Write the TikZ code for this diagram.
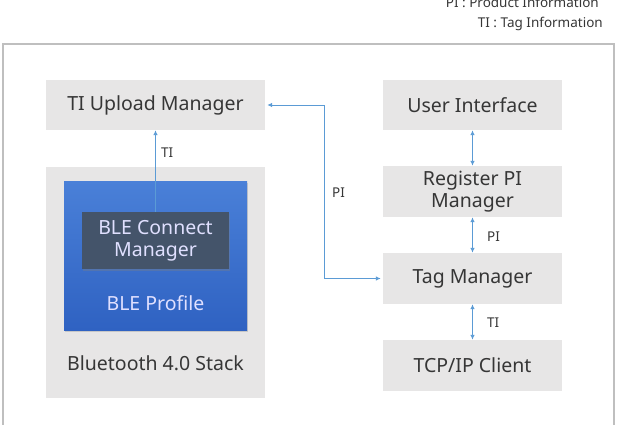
\documentclass[tikz,border=0pt]{standalone}
\usepackage{fontspec}
\setmainfont{Noto Sans}
\usetikzlibrary{arrows.meta, shadows}

\definecolor{boxgray}{HTML}{E7E6E6}
\definecolor{txtgray}{HTML}{363636}
\definecolor{linkblue}{HTML}{5B9BD5}
\definecolor{framegray}{HTML}{BFBFBF}
\definecolor{proftop}{HTML}{4A80D8}
\definecolor{profbot}{HTML}{2F62C2}
\definecolor{connfill}{HTML}{44546A}

\begin{document}
\begin{tikzpicture}[
  x=1pt, y=-1pt,
  >={Latex[length=5pt, width=4.5pt]},
  gbox/.style={rectangle, fill=boxgray, inner sep=0pt, align=center,
    text=txtgray, font=\fontsize{19.5}{22}\selectfont},
  txt/.style={text=txtgray, font=\fontsize{19.5}{22}\selectfont, align=center},
  small/.style={text=txtgray, font=\fontsize{13.5}{15}\selectfont, inner sep=1pt},
  link/.style={linkblue, line width=0.9pt},
  profbox/.style={rectangle, inner sep=0pt, top color=proftop, bottom color=profbot,
    drop shadow={opacity=0.3, shadow xshift=1pt, shadow yshift=-1.5pt}},
  connbox/.style={rectangle, inner sep=0pt, fill=connfill, align=center,
    text=white!88!blue, font=\fontsize{19.5}{22}\selectfont,
    drop shadow={opacity=0.35, shadow xshift=1pt, shadow yshift=-1.5pt}},
]

\useasboundingbox (0,0) rectangle (621,425);

% ---- legend (top right) ----
\node[small, anchor=east] (legpi) at (600,2) {PI : Product Information};
\node[small, anchor=east] (legti) at (604,24) {TI : Tag Information};

% ---- outer frame ----
\draw[framegray, line width=1.4pt] (3,440) -- (3,44) -- (614,44) -- (614,440);

% ============================================================
% LEFT COLUMN
% ============================================================
\node[gbox, minimum width=219pt, minimum height=50pt] (upl) at (155.5,105) {TI Upload Manager};
\node[gbox, minimum width=219pt, minimum height=231pt] (stack) at (155.5,282.5) {};
\node[txt] (stacklbl) at (155.5,363) {Bluetooth 4.0 Stack};
\node[profbox, minimum width=183pt, minimum height=149pt] (prof) at (155.5,255.5) {};
\node[txt, text=white!88!blue] (proflbl) at (155.5,303) {BLE Profile};
\node[connbox, minimum width=147pt, minimum height=57pt] (conn) at (155.5,240.5) {BLE Connect\\Manager};

% ============================================================
% RIGHT COLUMN
% ============================================================
\node[gbox, minimum width=179pt, minimum height=50pt] (ui)  at (472.5,105)   {User Interface};
\node[gbox, minimum width=179pt, minimum height=51pt] (reg) at (472.5,191.5) {Register PI\\Manager};
\node[gbox, minimum width=179pt, minimum height=51pt] (tag) at (472.5,278.5) {Tag Manager};
\node[gbox, minimum width=179pt, minimum height=51pt] (tcp) at (472.5,365.5) {TCP/IP Client};

% ============================================================
% CONNECTORS
% ============================================================
\coordinate (pibend) at (324,278.5);
\draw[link, ->] (conn.north) -- (upl.south);
\draw[link, <->, shorten <=2pt, shorten >=2pt] (upl.east) -| (pibend) -- (tag.west);
\draw[link, <->] (ui) -- (reg);
\draw[link, <->] (reg) -- (tag);
\draw[link, <->] (tag) -- (tcp);

% labels
\node[small, anchor=west] (lblti1) at (160,153) {TI};
\node[small, anchor=west] (lblpi1) at (331,193) {PI};
\node[small, anchor=west] (lblpi2) at (486,237) {PI};
\node[small, anchor=west] (lblti2) at (486,323) {TI};

\end{tikzpicture}
\end{document}
